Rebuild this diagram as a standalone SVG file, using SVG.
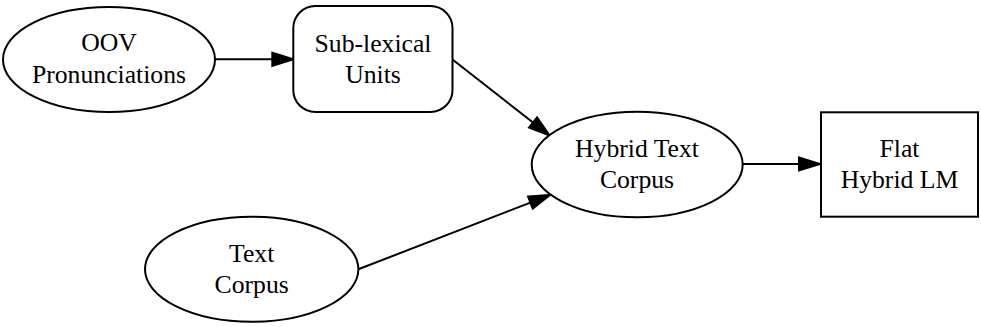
<svg xmlns="http://www.w3.org/2000/svg" width="981" height="327" viewBox="0 0 981 327">
<style>
.n{fill:#fff;stroke:#000;stroke-width:2}
.t{font-family:"Liberation Serif","Times New Roman",serif;font-size:25.7px;fill:#000;text-anchor:middle}
.e{fill:none;stroke:#000;stroke-width:2}
</style>
<defs>
<marker id="ah" markerUnits="userSpaceOnUse" orient="auto" refX="0" refY="0" markerWidth="30" markerHeight="20" viewBox="0 -10 30 20" overflow="visible">
<path d="M0,-6.5 L21,0 L0,6.5 Z" fill="#000" stroke="#000" stroke-width="2" stroke-linejoin="miter"/>
</marker>
</defs>
<rect width="981" height="327" fill="#fff"/>
<g id="edges">
<line class="e" x1="215" y1="59.3" x2="272.3" y2="59.3" marker-end="url(#ah)"/>
<line class="e" x1="452.5" y1="59.5" x2="533" y2="122.5" marker-end="url(#ah)"/>
<line class="e" x1="358.3" y1="269.3" x2="530.4" y2="202.6" marker-end="url(#ah)"/>
<line class="e" x1="742.7" y1="164" x2="799" y2="164" marker-end="url(#ah)"/>
</g>
<g id="oov">
<ellipse class="n" cx="109" cy="59.5" rx="106" ry="52.5"/>
<text class="t"><tspan x="109" y="51">OOV</tspan><tspan x="109" y="83">Pronunciations</tspan></text>
</g>
<g id="sublexical">
<rect class="n" x="293.3" y="6" width="159.2" height="106" rx="22" ry="22"/>
<text class="t"><tspan x="373" y="51.5">Sub-lexical</tspan><tspan x="373" y="83">Units</tspan></text>
</g>
<g id="hybridtext">
<ellipse class="n" cx="637.2" cy="164.5" rx="105.5" ry="52.8"/>
<text class="t"><tspan x="637" y="156.7">Hybrid Text</tspan><tspan x="637" y="187.5">Corpus</tspan></text>
</g>
<g id="textcorpus">
<ellipse class="n" cx="251.7" cy="269.2" rx="106.7" ry="52.5"/>
<text class="t"><tspan x="251.7" y="261.5">Text</tspan><tspan x="251.7" y="293">Corpus</tspan></text>
</g>
<g id="flat">
<rect class="n" x="821" y="112.3" width="157" height="104.4"/>
<text class="t"><tspan x="899.5" y="157.3">Flat</tspan><tspan x="899.5" y="187.5">Hybrid LM</tspan></text>
</g>
</svg>
